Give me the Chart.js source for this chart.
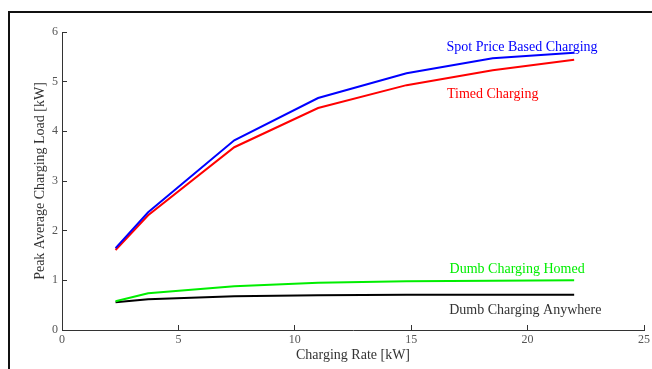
<!DOCTYPE html>
<html>
<head>
<meta charset="utf-8">
<script src="https://cdn.jsdelivr.net/npm/chart.js@4.4.1/dist/chart.umd.min.js"></script>
<style>
  html, body { margin: 0; padding: 0; background: #fff; overflow: hidden; }
  #wrap { position: relative; width: 652px; height: 369px; overflow: hidden; }
  #frame { position: absolute; left: 8px; top: 11px; width: 800px; height: 500px; border: 2px solid #111; }
  #grafico { position: absolute; left: 0; top: 0; }
</style>
</head>
<body>
<div id="wrap">
  <div id="frame"></div>
  <canvas id="grafico" width="652" height="369"></canvas>
</div>
<script>
// datos
const chargingRate = [2.3, 3.7, 7.4, 11, 14.8, 18.5, 22];
const spotPrice = [1.65, 2.37, 3.82, 4.67, 5.17, 5.47, 5.58];
const timed = [1.61, 2.31, 3.68, 4.47, 4.93, 5.23, 5.44];
const dumbHomed = [0.58, 0.74, 0.88, 0.95, 0.98, 0.99, 1.0];
const dumbAnywhere = [0.56, 0.62, 0.68, 0.7, 0.71, 0.71, 0.71];

const seriesNames = ["Spot Price Based Charging", "Timed Charging", "Dumb Charging Homed", "Dumb Charging Anywhere"];
const seriesColors = ["#0000ff", "#ff0000", "#00ee00", "#000000"];
// posicion de cada etiqueta en unidades de datos
const labelX = [19.76, 18.5, 19.55, 19.9];
const labelY = [5.7, 4.75, 1.23, 0.4];

const SERIF = "'Liberation Serif', 'DejaVu Serif', serif";

function puntos(ys) {
  return chargingRate.map((x, i) => ({ x: x, y: ys[i] }));
}

// etiquetas junto a las curvas
const etiquetas = {
  id: "etiquetas",
  afterDatasetsDraw(chart) {
    let ctx = chart.ctx;
    let xs = chart.scales.x;
    let ys = chart.scales.y;
    ctx.save();
    ctx.font = "14px " + SERIF;
    ctx.textAlign = "center";
    ctx.textBaseline = "middle";
    seriesNames.forEach((nombre, i) => {
      ctx.fillStyle = seriesColors[i] === "#000000" ? "#333" : seriesColors[i];
      ctx.fillText(nombre, xs.getPixelForValue(labelX[i]), ys.getPixelForValue(labelY[i]));
    });
    ctx.restore();
  },
};

let datos = {
  datasets: [spotPrice, timed, dumbHomed, dumbAnywhere].map((serie, i) => ({
    label: seriesNames[i],
    data: puntos(serie),
    borderColor: seriesColors[i],
    backgroundColor: seriesColors[i],
    borderWidth: 2,
    pointRadius: 0,
    tension: 0,
    fill: false,
  })),
};

let config = {
  type: "line",
  data: datos,
  plugins: [etiquetas],
  options: {
    responsive: false,
    animation: false,
    layout: { padding: { top: 32, right: 8, left: 0, bottom: 0 } },
    plugins: {
      legend: { display: false },
      tooltip: { enabled: false },
    },
    scales: {
      x: {
        type: "linear",
        min: 0,
        max: 25,
        afterFit: (s) => {
          s.height = 39;
          s.paddingLeft = 0;
          s.paddingRight = 0;
        },
        grid: { drawOnChartArea: false, tickLength: -5, color: "#333" },
        border: { color: "#333", width: 1 },
        ticks: {
          stepSize: 5,
          padding: 8,
          color: "#555",
          font: { family: SERIF, size: 12 },
        },
        title: {
          display: true,
          text: "Charging Rate [kW]",
          color: "#333",
          font: { family: SERIF, size: 14 },
          padding: { top: 0, bottom: 5 },
        },
      },
      y: {
        min: 0,
        max: 6,
        afterFit: (s) => { s.width = 62; },
        grid: { drawOnChartArea: false, tickLength: -5, color: "#333" },
        border: { color: "#333", width: 1 },
        ticks: {
          stepSize: 1,
          padding: 9,
          color: "#555",
          font: { family: SERIF, size: 12 },
        },
        title: {
          display: true,
          text: "Peak Average Charging Load [kW]",
          color: "#333",
          font: { family: SERIF, size: 14 },
          padding: { top: 32, bottom: 0 },
        },
      },
    },
  },
};

new Chart(document.getElementById("grafico"), config);
</script>
</body>
</html>
